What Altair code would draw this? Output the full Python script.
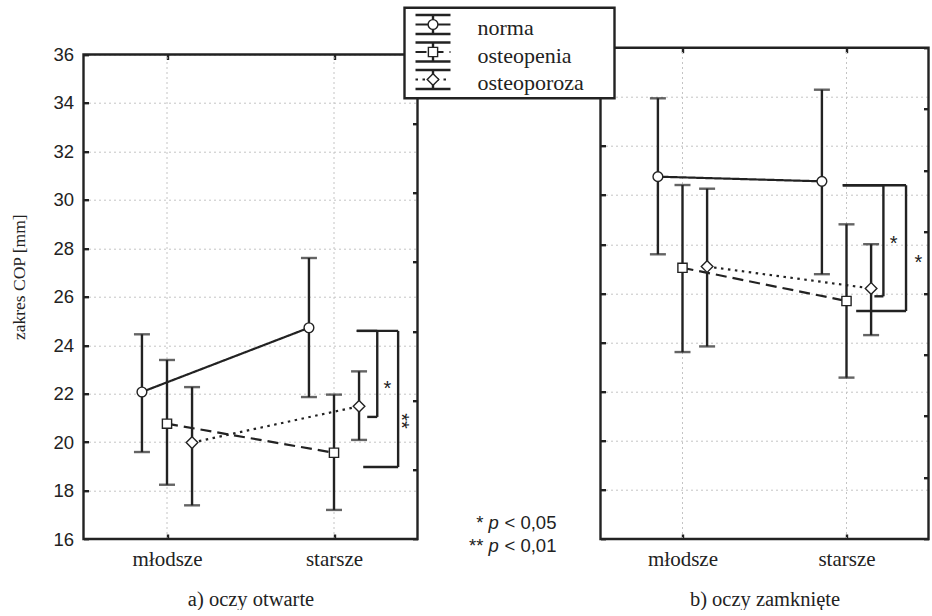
import json

import altair as alt
import pandas as pd

categories = ["młodsze", "starsze"]
groups = ["norma", "osteopenia", "osteoporoza"]
panel_titles = ["a) oczy otwarte", "b) oczy zamknięte"]
y_title = "zakres COP [mm]"
y_ticks = [16, 18, 20, 22, 24, 26, 28, 30, 32, 34, 36]

# a) eyes open: means and error-bar limits for [młodsze, starsze]
open_norma_mean = [22.07, 24.72]
open_norma_low = [19.59, 21.86]
open_norma_high = [24.45, 27.60]
open_osteopenia_mean = [20.76, 19.56]
open_osteopenia_low = [18.24, 17.20]
open_osteopenia_high = [23.39, 21.96]
open_osteoporoza_mean = [19.98, 21.48]
open_osteoporoza_low = [17.39, 20.09]
open_osteoporoza_high = [22.27, 22.92]

# b) eyes closed
closed_norma_mean = [30.75, 30.56]
closed_norma_low = [27.59, 26.78]
closed_norma_high = [33.94, 34.29]
closed_osteopenia_mean = [27.04, 25.69]
closed_osteopenia_low = [23.61, 22.57]
closed_osteopenia_high = [30.41, 28.81]
closed_osteoporoza_mean = [27.09, 26.20]
closed_osteoporoza_low = [23.84, 24.30]
closed_osteoporoza_high = [30.26, 28.00]

# significance brackets: (label, upper end, lower end)
open_brackets = [("*", 24.59, 21.04), ("**", 24.59, 18.97)]
closed_brackets = [("*", 30.40, 25.88), ("*", 30.40, 25.28)]
p_notes = [("*", "< 0,05"), ("**", "< 0,01")]

# ---------------------------------------------------------------- styling
INK = "#222222"
GRID = "#c4c4c4"
SERIF = "Liberation Serif"
SANS = "Liberation Sans"
X_DOMAIN = [-0.5, 1.5]
Y_DOMAIN = [16, 36]
DODGE = {"norma": -0.15, "osteopenia": 0.0, "osteoporoza": 0.15}
SHAPES = {"norma": "circle", "osteopenia": "square", "osteoporoza": "diamond"}
SIZES = {"norma": 95, "osteopenia": 85, "osteoporoza": 135}
DASHES = {"norma": [1, 0], "osteopenia": [11, 6], "osteoporoza": [2.5, 4.5]}
LW = 2.4

PANEL_H = 491.3
# bracket drawing: arm starts, vertical bar and label placement (category units)
open_bracket_layout = [
    dict(x_top=1.136, x_bottom=1.199, x_bar=1.259, lx=1.319, ly=22.2, angle=0),
    dict(x_top=1.136, x_bottom=1.175, x_bar=1.384, lx=1.402, ly=20.87, angle=90),
]
closed_bracket_layout = [
    dict(x_top=0.977, x_bottom=1.170, x_bar=1.225, lx=1.288, ly=28.0, angle=0),
    dict(x_top=0.977, x_bottom=1.059, x_bar=1.363, lx=1.438, ly=27.25, angle=0),
]

one_row = pd.DataFrame({"k": [0]})
label_expr = json.dumps(categories, ensure_ascii=False) + "[datum.value]"


def legend_layers():
    """Legend box with error-bar glyphs, drawn in pixels left of the right panel."""
    base = alt.Chart(one_row)
    layers = [
        base.mark_rect(fill="white", stroke=INK, strokeWidth=LW).encode(
            x=alt.value(-196), x2=alt.value(14), y=alt.value(-40), y2=alt.value(50.5)
        )
    ]
    sx, sx0, sx1, cap = -167.5, -185, -150, 9.5
    for r, g in enumerate(groups):
        cy = -23.2 + r * 27.5
        for dy in (-cap, cap):
            layers.append(
                base.mark_rule(color=INK, strokeWidth=LW).encode(
                    x=alt.value(sx0), x2=alt.value(sx1), y=alt.value(cy + dy)
                )
            )
        layers.append(
            base.mark_rule(color=INK, strokeWidth=LW).encode(
                x=alt.value(sx), y=alt.value(cy - cap), y2=alt.value(cy + cap)
            )
        )
        layers.append(
            base.mark_rule(color=INK, strokeWidth=2, strokeDash=DASHES[g]).encode(
                x=alt.value(sx0), x2=alt.value(sx1), y=alt.value(cy)
            )
        )
        layers.append(
            base.mark_point(
                shape=SHAPES[g], size=SIZES[g], filled=True, fill="white",
                stroke=INK, strokeWidth=1.4, opacity=1,
            ).encode(x=alt.value(sx), y=alt.value(cy))
        )
        layers.append(
            base.mark_text(
                text=g, font=SERIF, fontSize=22, color=INK, align="left", baseline="middle"
            ).encode(x=alt.value(-123), y=alt.value(cy + 3.5))
        )
    return layers


def note_layers():
    """Significance key between the panels."""
    base = alt.Chart(one_row)
    layers = []
    for r, (stars, rest) in enumerate(p_notes):
        cy = 475 + r * 23.3
        layers.append(base.mark_text(text=stars, font=SANS, fontSize=18.5, color=INK,
                                     align="right", baseline="middle").encode(
            x=alt.value(-117), y=alt.value(cy)))
        layers.append(base.mark_text(text="p", font=SANS, fontSize=18.5, fontStyle="italic",
                                     color=INK, align="left", baseline="middle").encode(
            x=alt.value(-112), y=alt.value(cy)))
        layers.append(base.mark_text(text=rest, font=SANS, fontSize=18.5, color=INK,
                                     align="left", baseline="middle").encode(
            x=alt.value(-96), y=alt.value(cy)))
    return layers


def make_panel(i, stats, brackets, geometry, width, plot_h, n_side_ticks, show_y, extras):
    rows = []
    for g, (mean, low, high) in zip(groups, stats):
        for k, cat in enumerate(categories):
            rows.append({"group": g, "cat": cat, "xpos": k + DODGE[g],
                         "val": mean[k], "low": low[k], "high": high[k]})
    df = pd.DataFrame(rows)
    cat_df = pd.DataFrame({"xpos": list(range(len(categories)))})

    seg_rows, lab_rows = [], []
    for (label, top, bottom), geo in zip(brackets, geometry):
        seg_rows += [
            {"xpos": geo["x_top"], "xpos2": geo["x_bar"], "val": top, "val2": top},
            {"xpos": geo["x_bar"], "xpos2": geo["x_bar"], "val": top, "val2": bottom},
            {"xpos": geo["x_bottom"], "xpos2": geo["x_bar"], "val": bottom, "val2": bottom},
        ]
        lab_rows.append({"xpos": geo["lx"], "val": geo["ly"], "label": label,
                         "angle": geo["angle"]})
    seg_df = pd.DataFrame(seg_rows)
    lab_df = pd.DataFrame(lab_rows)

    y_range = [PANEL_H, PANEL_H - plot_h]
    x_scale = alt.Scale(domain=X_DOMAIN, nice=False, zero=False)
    y_scale = alt.Scale(domain=Y_DOMAIN, nice=False, zero=False, range=y_range)

    x_axis = alt.Axis(
        orient="bottom", values=list(range(len(categories))), labelExpr=label_expr,
        title=panel_titles[i], grid=False, domain=False, offset=-5, tickSize=5,
        tickWidth=LW, tickColor=INK, labelFont=SERIF, labelFontSize=21,
        labelColor=INK, labelPadding=9, titleFont=SERIF, titleFontSize=20.5,
        titleFontWeight="normal", titleColor=INK, titlePadding=20,
    )
    y_axis_opts = dict(
        orient="left", values=y_ticks, grid=True, gridColor=GRID, gridDash=[2, 3],
        gridWidth=1, domain=False, offset=-5, tickSize=5, tickWidth=LW, tickColor=INK,
        labels=show_y,
    )
    if show_y:
        y_axis_opts.update(
            title=y_title, labelFont=SANS, labelFontSize=18.5, labelColor=INK,
            labelPadding=10, titleFont=SERIF, titleFontSize=17.5, titleFontWeight="normal",
            titleColor=INK, titleX=-69, titleY=229, titleBaseline="middle",
        )
    else:
        y_axis_opts.update(title=None)
    y_axis = alt.Axis(**y_axis_opts)

    def X(f):
        return alt.X(f"{f}:Q", scale=x_scale, axis=x_axis)

    def Y(f):
        return alt.Y(f"{f}:Q", scale=y_scale, axis=y_axis)

    layers = [
        alt.Chart(cat_df).mark_rule(color=GRID, strokeDash=[2, 3], strokeWidth=1).encode(
            x=X("xpos"), y=alt.datum(Y_DOMAIN[0]), y2=alt.datum(Y_DOMAIN[1])
        ),
        alt.Chart(one_row).mark_rect(fillOpacity=0, stroke=INK, strokeWidth=LW).encode(
            x=alt.datum(X_DOMAIN[0]), x2=alt.datum(X_DOMAIN[1]),
            y=alt.datum(Y_DOMAIN[0]), y2=alt.datum(Y_DOMAIN[1]),
        ),
        alt.Chart(df).mark_line(color=INK, strokeWidth=2.2).encode(
            x=X("xpos"), y=Y("val"), detail="group:N", order="xpos:Q",
            strokeDash=alt.StrokeDash(
                "group:N", legend=None,
                scale=alt.Scale(domain=groups, range=[DASHES[g] for g in groups]),
            ),
        ),
        alt.Chart(df).mark_rule(color=INK, strokeWidth=LW).encode(
            x=X("xpos"), y=Y("low"), y2=alt.Y2("high")
        ),
        alt.Chart(df).mark_tick(orient="horizontal", color=INK, size=16, thickness=LW).encode(
            x=X("xpos"), y=Y("high")
        ),
        alt.Chart(df).mark_tick(orient="horizontal", color=INK, size=16, thickness=LW).encode(
            x=X("xpos"), y=Y("low")
        ),
    ]
    for g in groups:
        layers.append(
            alt.Chart(df[df["group"] == g]).mark_point(
                shape=SHAPES[g], size=SIZES[g], filled=True, fill="white",
                stroke=INK, strokeWidth=1.4, opacity=1,
            ).encode(x=X("xpos"), y=Y("val"))
        )
    layers += [
        alt.Chart(seg_df).mark_rule(color=INK, strokeWidth=LW).encode(
            x=X("xpos"), x2=alt.X2("xpos2"), y=Y("val"), y2=alt.Y2("val2")
        ),
        alt.Chart(lab_df).mark_text(font=SANS, fontSize=20, color=INK,
                                    align="center", baseline="middle").encode(
            x=X("xpos"), y=Y("val"), text="label:N",
            angle=alt.Angle("angle:Q", scale=None),
        ),
    ]
    layers += extras
    main = alt.layer(*layers)

    # tick marks along the top edge
    top = alt.Chart(cat_df).mark_point(opacity=0).encode(
        x=alt.X("xpos:Q", scale=x_scale, axis=alt.Axis(
            orient="top", values=list(range(len(categories))), labels=False, title=None,
            grid=False, domain=False, offset=-(5 + PANEL_H - plot_h), tickSize=5,
            tickWidth=LW, tickColor=INK))
    )
    # secondary tick marks along the right edge
    side_df = pd.DataFrame({"s": list(range(n_side_ticks + 1))})
    side = alt.Chart(side_df).mark_point(opacity=0).encode(
        y=alt.Y("s:Q", scale=alt.Scale(domain=[0, n_side_ticks], nice=False, range=y_range),
                axis=alt.Axis(orient="right", values=list(range(n_side_ticks + 1)),
                              labels=False, title=None, grid=False, domain=False,
                              offset=-5, tickSize=5, tickWidth=LW, tickColor=INK))
    )
    return alt.layer(main, top, side).resolve_scale(
        x="independent", y="independent"
    ).properties(width=width, height=PANEL_H)


open_stats = [
    (open_norma_mean, open_norma_low, open_norma_high),
    (open_osteopenia_mean, open_osteopenia_low, open_osteopenia_high),
    (open_osteoporoza_mean, open_osteoporoza_low, open_osteoporoza_high),
]
closed_stats = [
    (closed_norma_mean, closed_norma_low, closed_norma_high),
    (closed_osteopenia_mean, closed_osteopenia_low, closed_osteopenia_high),
    (closed_osteoporoza_mean, closed_osteoporoza_low, closed_osteoporoza_high),
]

left = make_panel(0, open_stats, open_brackets, open_bracket_layout,
                  334, 484.5, 7, True, [])
right = make_panel(1, closed_stats, closed_brackets, closed_bracket_layout,
                   328, PANEL_H, 8, False, note_layers() + legend_layers())

chart = alt.hconcat(left, right, spacing=183, bounds="flush").properties(
    padding={"left": 10.5, "top": 5.7, "right": 0, "bottom": 0},
    autosize=alt.AutoSizeParams(type="pad"),
).configure_view(strokeWidth=0)

chart.save("out.html", embed_options={"renderer": "svg", "actions": False})
